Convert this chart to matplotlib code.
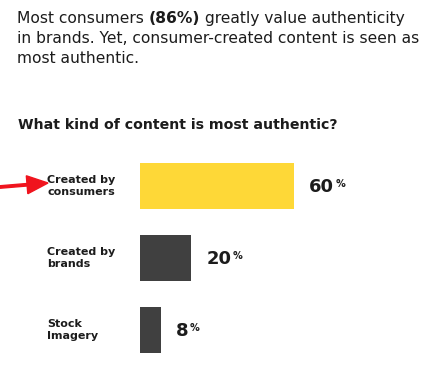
import matplotlib
matplotlib.use("Agg")
import matplotlib.pyplot as plt
import matplotlib.patches as mpatches

plt.rcParams['font.family'] = ['DejaVu Sans']

categories = ["Created by\nconsumers", "Created by\nbrands", "Stock\nImagery"]
values = [60, 20, 8]
colors = ["#FED837", "#404040", "#404040"]

intro_parts = ["Most consumers ", "(86%)", " greatly value authenticity"]
intro_rest = ["in brands. Yet, consumer-created content is seen as", "most authentic."]
title = "What kind of content is most authentic?"

W, H = 445, 380
fig = plt.figure(figsize=(W / 100, H / 100), dpi=100)
fig.patch.set_facecolor("white")

def fx(px):
    return px / W

def fy(py):
    return 1 - py / H

txt = "#1c1c1c"

# bars: x 0..100 maps to 140..397 px, rows 72 px apart
ax = fig.add_axes([fx(140), fy(366), (397 - 140) / W, (366 - 150) / H])
y = range(len(values))
ax.barh(y, values, height=46 / 72, color=colors)
ax.set_xlim(0, 100)
ax.set_ylim(2.5, -0.5)
ax.axis("off")

# intro paragraph, first line has a bold chunk
fs = 11.2
t = ax.annotate(intro_parts[0], xy=(fx(17), fy(23)), xycoords="figure fraction",
                fontsize=fs, color=txt, va="baseline", annotation_clip=False)
t = ax.annotate(intro_parts[1], xy=(1, 0), xycoords=t, fontsize=fs, fontweight="bold",
                color=txt, va="bottom", annotation_clip=False)
t = ax.annotate(intro_parts[2], xy=(1, 0), xycoords=t, fontsize=fs, color=txt,
                va="bottom", annotation_clip=False)
for i, line in enumerate(intro_rest):
    fig.text(fx(17), fy(43 + 20 * i), line, fontsize=fs, color=txt, va="baseline")

fig.text(fx(18), fy(129), title, fontsize=10.2, fontweight="bold", color=txt, va="baseline")

for i, (v, c) in enumerate(zip(values, categories)):
    ax.annotate(c, xy=(0, i), xytext=(-93, 0), textcoords="offset pixels",
                ha="left", va="center", fontsize=8, fontweight="bold",
                color=txt, linespacing=1.25, annotation_clip=False)
    num = ax.annotate(str(v), xy=(v, i), xytext=(15, -6), textcoords="offset pixels",
                      ha="left", va="baseline", fontsize=13, fontweight="bold",
                      color=txt, annotation_clip=False)
    ax.annotate("%", xy=(1, 0.95), xycoords=num, xytext=(1, 0), textcoords="offset pixels",
                ha="left", va="top", fontsize=7, fontweight="bold",
                color=txt, annotation_clip=False)

# red pointer arrow
arrow = mpatches.FancyArrow(0.0, 1.93, 0.48, 0.04, width=0.025, head_width=0.18,
                            head_length=0.21, length_includes_head=True,
                            color="#F0141E", transform=fig.dpi_scale_trans)
fig.add_artist(arrow)

fig.savefig("out.png", dpi=100)
